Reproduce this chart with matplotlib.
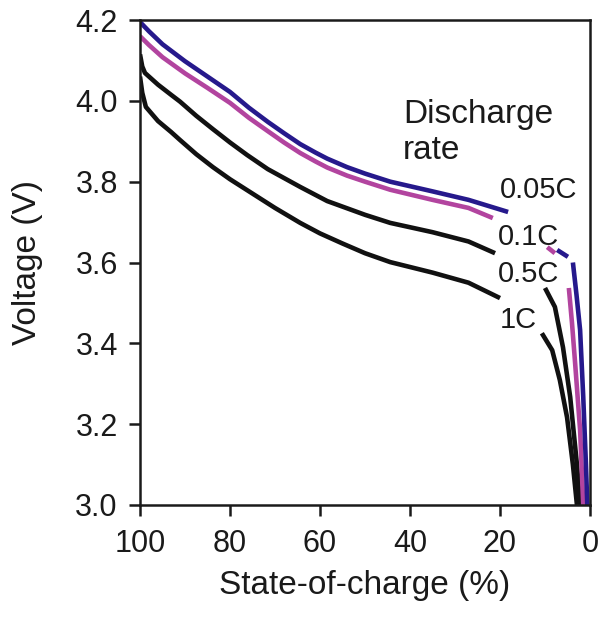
import numpy as np
import matplotlib
matplotlib.use("Agg")
import matplotlib.pyplot as plt

nan = np.nan

# state-of-charge (%) and voltage (V); nan = break in the line
soc_005 = [100, 98, 95, 90, 85, 80, 75.8, 71.6, 68, 64.4, 61, 58.4, 54, 50, 44.4, 35, 27,
           18.2, nan, 7.3, 4.9, nan, 3.8, 3.0, 2.2, 1.5, 0.9, 0.6]
v_005 = [4.195, 4.172, 4.14, 4.098, 4.06, 4.022, 3.983, 3.948, 3.92, 3.893, 3.872, 3.857,
         3.836, 3.82, 3.80, 3.776, 3.755, 3.725, nan, 3.631, 3.614, nan, 3.60, 3.52, 3.433,
         3.267, 3.10, 3.0]

soc_01 = [100, 98, 95, 90, 85, 80, 75.8, 71.6, 68, 64.4, 61, 58.4, 54, 50, 44.4, 35, 27,
          21.6, nan, 9.5, 7.8, nan, 4.7, 4.0, 3.3, 2.2, 1.5]
v_01 = [4.16, 4.138, 4.108, 4.068, 4.032, 3.995, 3.958, 3.925, 3.897, 3.871, 3.85, 3.835,
        3.815, 3.80, 3.78, 3.755, 3.735, 3.71, nan, 3.638, 3.623, nan, 3.537, 3.45, 3.35,
        3.185, 3.0]

soc_05 = [100, 99.5, 98.9, 96, 93.1, 91.1, 87.5, 83.8, 80, 76.2, 71.6, 64.4, 58.4, 50, 44.4,
          35, 27, 21.1, nan, 10, 7.8, 6, 4.4, 2.9, 2.2]
v_05 = [4.115, 4.085, 4.069, 4.04, 4.015, 3.998, 3.963, 3.93, 3.897, 3.866, 3.831, 3.787,
        3.752, 3.718, 3.698, 3.675, 3.652, 3.623, nan, 3.537, 3.49, 3.39, 3.267, 3.10, 3.0]

soc_1 = [100, 99.5, 98.7, 96, 93.1, 91.1, 87.5, 83.8, 80, 76.2, 70, 64.4, 60, 55, 50,
         44.4, 35, 27, 20, nan, 10.7, 8.4, 6.7, 5.1, 3.8, 2.9]
v_1 = [4.06, 4.02, 3.985, 3.95, 3.923, 3.903, 3.868, 3.836, 3.806, 3.779, 3.735, 3.698,
       3.672, 3.647, 3.623, 3.601, 3.575, 3.55, 3.512, nan, 3.425, 3.383, 3.309, 3.217,
       3.10, 3.0]

rate_labels = ["0.05C", "0.1C", "0.5C", "1C"]
label_pos = [(20, 3.759), (20.4, 3.643), (20.4, 3.551), (20, 3.438)]

x_ticks = [100, 80, 60, 40, 20, 0]
y_ticks = [3.0, 3.2, 3.4, 3.6, 3.8, 4.0, 4.2]

BLUE = "#26198c"
MAGENTA = "#b2449f"
BLACK = "#111111"
TEXT = "#1a1a1a"

plt.rcParams["font.family"] = ["Liberation Sans", "DejaVu Sans"]

fig = plt.figure(figsize=(6.01, 6.17), dpi=100)
ax = fig.add_axes([140 / 601, 1 - 505 / 617, 450 / 601, 485 / 617])

lw = 3.3
ax.plot(soc_1, v_1, color=BLACK, lw=lw, solid_capstyle="butt", solid_joinstyle="round")
ax.plot(soc_05, v_05, color=BLACK, lw=lw, solid_capstyle="butt", solid_joinstyle="round")
ax.plot(soc_01, v_01, color=MAGENTA, lw=lw, solid_capstyle="butt", solid_joinstyle="round")
ax.plot(soc_005, v_005, color=BLUE, lw=lw, solid_capstyle="butt", solid_joinstyle="round")

for lab, (x, y) in zip(rate_labels, label_pos):
    ax.text(x, y, lab, fontsize=21, ha="left", va="baseline", color=TEXT)
ax.text(41.6, 3.945, "Discharge", fontsize=24, ha="left", va="baseline", color=TEXT)
ax.text(41.6, 3.855, "rate", fontsize=24, ha="left", va="baseline", color=TEXT)

ax.set_xlim(100, 0)
ax.set_ylim(3.0, 4.2)
ax.set_xticks(x_ticks)
ax.set_xticklabels([str(t) for t in x_ticks])
ax.set_yticks(y_ticks)
ax.set_yticklabels([f"{t:.1f}" for t in y_ticks])

for s in ax.spines.values():
    s.set_linewidth(1.8)
    s.set_color(TEXT)
ax.tick_params(direction="out", length=8, width=1.8, labelsize=22, colors=TEXT)
ax.tick_params(axis="y", pad=8)
ax.tick_params(axis="x", pad=9)

ax.set_xlabel("State-of-charge (%)", fontsize=24, color=TEXT)
ax.set_ylabel("Voltage (V)", fontsize=24, color=TEXT)
ax.xaxis.set_label_coords(0.5, -0.167)
ax.yaxis.set_label_coords(-0.249, 0.5)
ax.xaxis.label.set_va("center")
ax.yaxis.label.set_va("center")

fig.savefig("out.png", dpi=100)
